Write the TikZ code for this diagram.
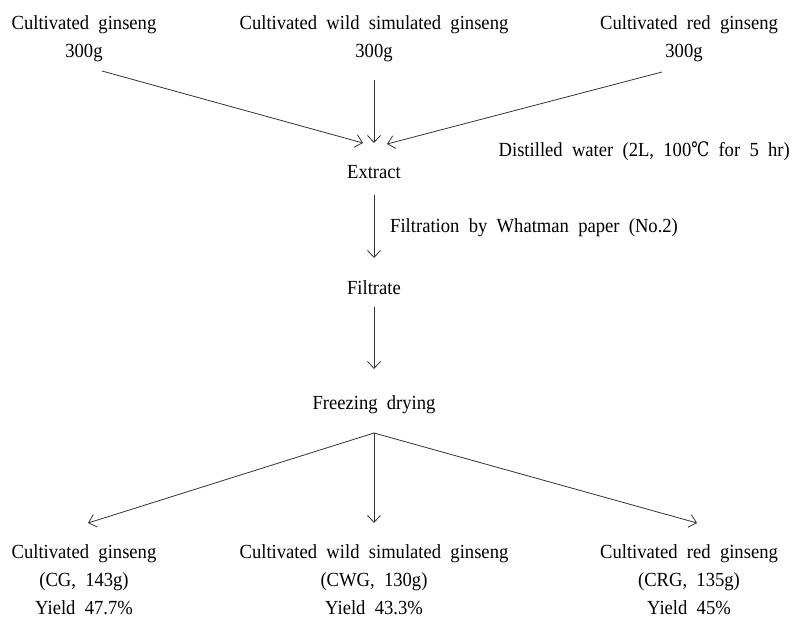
\documentclass[tikz,border=0pt]{standalone}
\usepackage{fontspec}
\setmainfont{Liberation Serif}[FakeStretch=0.93,WordSpace=2]
\newfontfamily\symfont{DejaVu Serif}[FakeStretch=0.8]
\usetikzlibrary{arrows.meta}
\begin{document}
\begin{tikzpicture}[x=1pt,y=-1pt,
  lbl/.style={inner sep=0pt,font=\fontsize{20}{28}\selectfont,align=center},
  arr/.style={draw=black!80,line width=0.8pt,-{Straight Barb[length=7pt,width=13pt,line width=0.8pt]}}]
\useasboundingbox (0,0) rectangle (793,618);
% top row
\node[lbl] (t1) at (84,39) {Cultivated ginseng\\300g};
\node[lbl] (t2) at (374,39) {Cultivated wild simulated ginseng\\300g};
\node[lbl] (t3) at (689,39) {Cultivated red ginseng\\\hspace*{-10pt}300g};
\coordinate (s1) at (102,71);
\coordinate (s2) at (374,80);
\coordinate (s3) at (662,72);
\coordinate (e1) at (363,143);
\coordinate (e2) at (374,143);
\coordinate (e3) at (387,144);
\draw[arr] (s1) -- (e1);
\draw[arr] (s2) -- (e2);
\draw[arr] (s3) -- (e3);
\node[lbl,anchor=east] (dw) at (790,151) {Distilled water (2L, 100{\symfont ℃} for 5 hr)};
\node[lbl] (ex) at (374,172) {Extract};
\node[lbl] (fi) at (374,288) {Filtrate};
\coordinate (f1) at (374,195);
\coordinate (f2) at (374,258);
\draw[arr] (f1) -- (f2);
\node[lbl,anchor=west] (wm) at (390,228) {Filtration by Whatman paper (No.2)};
\coordinate (g1) at (374,307);
\coordinate (g2) at (374,369);
\draw[arr] (g1) -- (g2);
\node[lbl] (fd) at (374,405) {Freezing drying};
\coordinate (br) at (374,433);
\coordinate (b1) at (88,523);
\coordinate (b2) at (374,523);
\coordinate (b3) at (697,523);
\draw[arr] (br) -- (b1);
\draw[arr] (br) -- (b2);
\draw[arr] (br) -- (b3);
% bottom
\node[lbl] (r1) at (84,580) {Cultivated ginseng\\(CG, 143g)\\Yield 47.7\%};
\node[lbl] (r2) at (374,580) {Cultivated wild simulated ginseng\\(CWG, 130g)\\Yield 43.3\%};
\node[lbl] (r3) at (689,580) {Cultivated red ginseng\\(CRG, 135g)\\Yield 45\%};
\end{tikzpicture}
\end{document}
